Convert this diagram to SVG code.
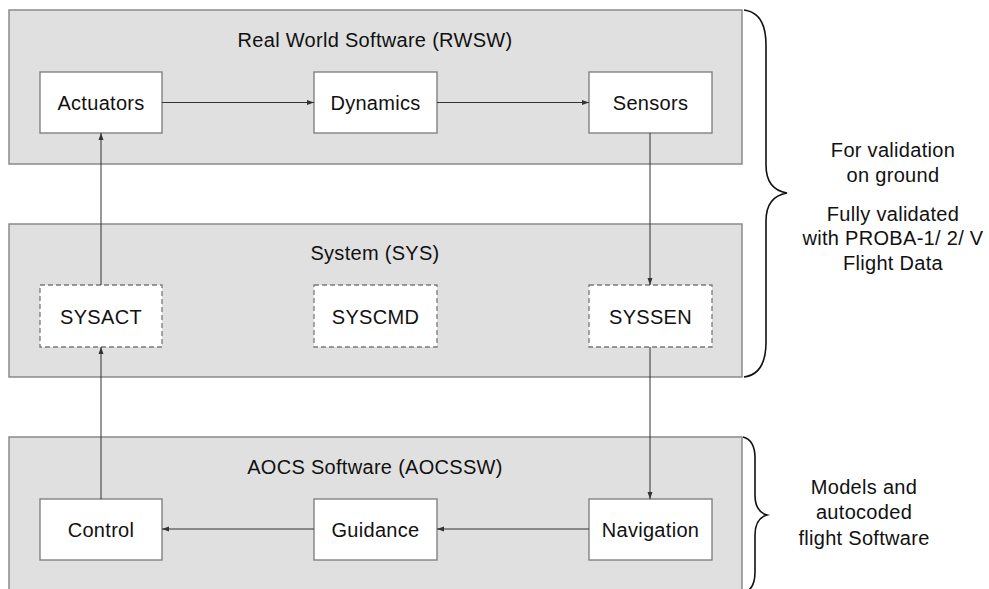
<svg xmlns="http://www.w3.org/2000/svg" width="989" height="589" viewBox="0 0 989 589">
<style>
.panel{fill:#e0e0e0;stroke:#8a8a8a;stroke-width:1.5}
.box{fill:#fff;stroke:#7a7a7a;stroke-width:1.3}
.dbox{fill:#fff;stroke:#7a7a7a;stroke-width:1.3;stroke-dasharray:5,3}
text{font-family:"Liberation Sans",Arial,sans-serif;font-size:20px;fill:#111;text-anchor:middle;letter-spacing:0.3px}
.conn{stroke:#333;stroke-width:1;fill:none;marker-end:url(#arr)}
.brace{stroke:#111;stroke-width:1.6;fill:none}
</style>
<defs>
<marker id="arr" markerUnits="userSpaceOnUse" markerWidth="8" markerHeight="6" refX="7" refY="3" orient="auto">
<path d="M0,0.5 L7,3 L0,5.5 Z" fill="#333"/>
</marker>
</defs>
<g id="panel-rwsw">
<rect class="panel" x="9" y="10" width="733" height="154"/>
<text x="375" y="47">Real World Software (RWSW)</text>
</g>
<g id="panel-sys">
<rect class="panel" x="9" y="224" width="733" height="153"/>
<text x="375" y="260">System (SYS)</text>
</g>
<g id="panel-aocssw">
<rect class="panel" x="9" y="437" width="733" height="160"/>
<text x="375" y="474">AOCS Software (AOCSSW)</text>
</g>
<g id="actuators"><rect class="box" x="40" y="72" width="122" height="61"/><text x="101" y="110">Actuators</text></g>
<g id="dynamics"><rect class="box" x="314" y="72" width="123" height="61"/><text x="375.5" y="110">Dynamics</text></g>
<g id="sensors"><rect class="box" x="589" y="72" width="123" height="61"/><text x="650.5" y="110">Sensors</text></g>
<g id="sysact"><rect class="dbox" x="40" y="285" width="122" height="62"/><text x="101" y="324">SYSACT</text></g>
<g id="syscmd"><rect class="dbox" x="314" y="285" width="123" height="62"/><text x="375.5" y="324">SYSCMD</text></g>
<g id="syssen"><rect class="dbox" x="589" y="285" width="123" height="62"/><text x="650.5" y="324">SYSSEN</text></g>
<g id="control"><rect class="box" x="40" y="499" width="122" height="61"/><text x="101" y="537">Control</text></g>
<g id="guidance"><rect class="box" x="314" y="499" width="123" height="61"/><text x="375.5" y="537">Guidance</text></g>
<g id="navigation"><rect class="box" x="589" y="499" width="123" height="61"/><text x="650.5" y="537">Navigation</text></g>
<g id="connectors">
<line class="conn" x1="162" y1="102.5" x2="314" y2="102.5"/>
<line class="conn" x1="437" y1="102.5" x2="589" y2="102.5"/>
<line class="conn" x1="650" y1="133" x2="650" y2="285"/>
<line class="conn" x1="650" y1="347" x2="650" y2="499"/>
<line class="conn" x1="589" y1="529" x2="437" y2="529"/>
<line class="conn" x1="314" y1="529" x2="162" y2="529"/>
<line class="conn" x1="101" y1="499" x2="101" y2="347"/>
<line class="conn" x1="101" y1="285" x2="101" y2="133"/>
</g>
<g id="brace-top">
<path class="brace" d="M744,10 C760,12 766,25 766,45 L766,165 C766,183 775,191 787,193 C775,195 766,203 766,221 L766,342 C766,362 760,375 744,377"/>
<text x="893" y="157">For validation</text>
<text x="893" y="182">on ground</text>
<text x="893" y="221">Fully validated</text>
<text x="893" y="245">with PROBA-1/ 2/ V</text>
<text x="893" y="270">Flight Data</text>
</g>
<g id="brace-bottom">
<path class="brace" d="M743,437 C751,439 755,447 755,458 L755,495 C755,507 760,513 767,515 C760,517 755,523 755,535 L755,572 C755,583 751,591 743,593"/>
<text x="864" y="494">Models and</text>
<text x="864" y="519">autocoded</text>
<text x="864" y="545">flight Software</text>
</g>
</svg>
